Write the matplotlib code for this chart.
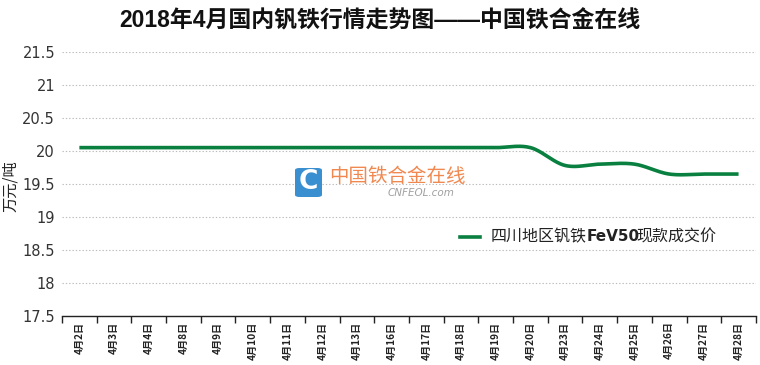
import numpy as np
import matplotlib.pyplot as plt
from matplotlib.patches import FancyBboxPatch

dates = ['4月2日', '4月3日', '4月4日', '4月8日', '4月9日', '4月10日', '4月11日',
         '4月12日', '4月13日', '4月16日', '4月17日', '4月18日', '4月19日', '4月20日',
         '4月23日', '4月24日', '4月25日', '4月26日', '4月27日', '4月28日']
price = [20.05, 20.05, 20.05, 20.05, 20.05, 20.05, 20.05, 20.05, 20.05, 20.05,
         20.05, 20.05, 20.05, 20.05, 19.78, 19.80, 19.80, 19.65, 19.65, 19.65]
series_name = ['四川地区钒铁', 'FeV50', '现款成交价']

CJK = ['Noto Sans CJK SC', 'DejaVu Sans']
NUM = ['DejaVu Sans', 'Noto Sans CJK SC']
GREEN = '#0a8040'


def smooth(y, n=30):
    # 类似Excel平滑线 (Catmull-Rom)
    y = np.asarray(y, dtype=float)
    p = np.concatenate([[y[0]], y, [y[-1]]])
    xs, ys = [], []
    for i in range(len(y) - 1):
        p0, p1, p2, p3 = p[i], p[i + 1], p[i + 2], p[i + 3]
        t = np.linspace(0, 1, n, endpoint=False)
        v = 0.5 * ((2 * p1) + (-p0 + p2) * t + (2 * p0 - 5 * p1 + 4 * p2 - p3) * t ** 2
                   + (-p0 + 3 * p1 - 3 * p2 + p3) * t ** 3)
        xs.append(i + t)
        ys.append(v)
    xs.append([len(y) - 1])
    ys.append([y[-1]])
    return np.concatenate(xs), np.concatenate(ys)


fig = plt.figure(figsize=(7.6, 3.65), dpi=100)
ax = fig.add_axes([0.0816, 0.134, 0.913, 0.724])

sx, sy = smooth(price)
ax.plot(sx, sy, color=GREEN, lw=2.6, solid_capstyle='butt')

ax.set_xlim(-0.5, len(dates) - 0.5)
ax.set_ylim(17.5, 21.5)
ax.set_yticks(np.arange(17.5, 21.51, 0.5))
ax.set_yticklabels(['17.5', '18', '18.5', '19', '19.5', '20', '20.5', '21', '21.5'],
                   family=NUM, fontsize=10.5, color='#333333')
ax.yaxis.grid(True, ls=(0, (1.2, 1.8)), color='#bbbbbb', lw=0.8)
ax.set_axisbelow(True)
ax.tick_params(axis='y', length=0, pad=5)

for s in ['top', 'right', 'left']:
    ax.spines[s].set_visible(False)
ax.spines['bottom'].set_color('#222222')
ax.spines['bottom'].set_linewidth(1.0)

ax.set_xticks(np.arange(-0.5, len(dates), 1.0))
ax.set_xticklabels([])
ax.tick_params(axis='x', length=5, width=1.0, color='#222222')
for i, d in enumerate(dates):
    ax.text(i, 17.42, d, rotation=90, ha='center', va='top', fontsize=7.3,
            family=CJK, fontweight='bold', color='#222222')

fig.text(0.014, 0.49, '万元/吨', rotation=90, ha='center', va='center',
         fontsize=11, family=CJK, color='#222222')

fig.text(0.5, 0.942, '2018年4月国内钒铁行情走势图——中国铁合金在线', ha='center', va='center',
         fontsize=16.5, family=['Liberation Sans', 'Noto Sans CJK SC'], fontweight='bold',
         color='#111111')

# 水印
fig.patches.append(FancyBboxPatch((295 / 760, 1 - 197 / 365), 27 / 760, 29 / 365,
                                  boxstyle='round,pad=0,rounding_size=0.006',
                                  transform=fig.transFigure, fc='#3a8fd0', ec='none'))
fig.text(308.5 / 760, 1 - 182 / 365, 'C', ha='center', va='center', fontsize=19,
         fontweight='bold', color='white', family='DejaVu Sans')
fig.text(329 / 760, 1 - 176 / 365, '中国铁合金在线', ha='left', va='center', fontsize=14,
         family=CJK, color='#f08850')
fig.text(388 / 760, 1 - 193 / 365, 'CNFEOL.com', ha='left', va='center', fontsize=7.5,
         style='italic', color='#a0a0a0', family='DejaVu Sans')

# 图例 (FeV50 加粗)
ax.plot([0.574, 0.602], [0.30, 0.30], transform=ax.transAxes, color=GREEN, lw=2.6)
t1 = ax.text(0.617, 0.30, series_name[0], transform=ax.transAxes, ha='left', va='center',
             fontsize=11.5, family=CJK, color='#222222')
t2 = ax.annotate(series_name[1], xy=(1, 0.5), xycoords=t1, ha='left', va='center',
                 fontsize=11, family=NUM, fontweight='bold', color='#222222')
ax.annotate(series_name[2], xy=(1, 0.5), xytext=(-2, 0), textcoords='offset points',
            xycoords=t2, ha='left', va='center',
            fontsize=11.5, family=CJK, color='#222222')

fig.savefig('out.png', dpi=100)
